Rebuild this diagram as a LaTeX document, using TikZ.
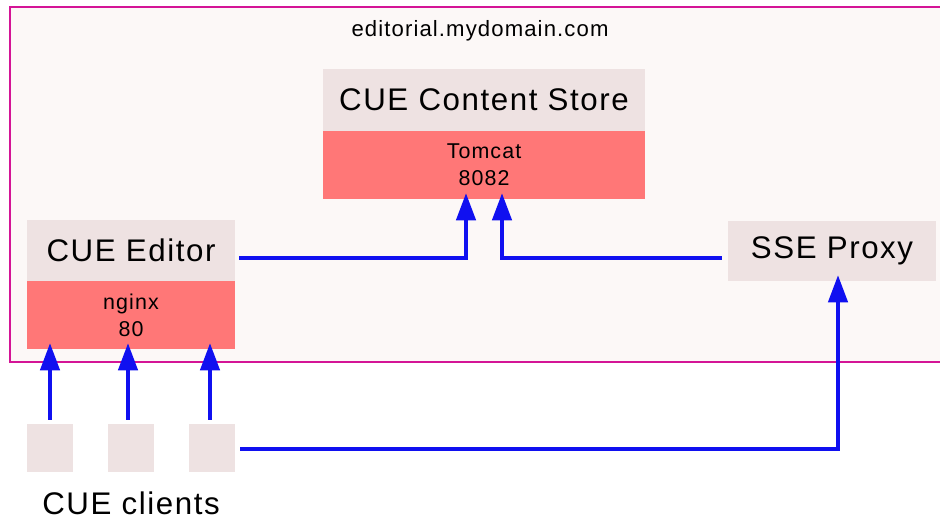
\documentclass[tikz,border=0pt]{standalone}
\usepackage{fontspec}
\setmainfont{Liberation Sans}[LetterSpace=5]
\usetikzlibrary{arrows.meta}
\usetikzlibrary{calc}
\usetikzlibrary{positioning}
\definecolor{hostline}{RGB}{212,20,150}
\definecolor{hostfill}{RGB}{252,248,247}
\definecolor{boxfill}{RGB}{238,226,226}
\definecolor{portfill}{RGB}{255,119,119}
\definecolor{linkblue}{RGB}{16,16,240}

\begin{document}
\begin{tikzpicture}[x=0.02cm, y=-0.02cm,
    host/.style={draw=hostline, fill=hostfill, line width=1.1pt},
    service/.style={fill=boxfill, inner sep=0pt, font=\fontsize{17.8}{20}\selectfont},
    port/.style={fill=portfill, inner sep=0pt, align=center, font=\fontsize{12.2}{15.5}\selectfont},
    client/.style={fill=boxfill, inner sep=0pt, minimum width=0.92cm, minimum height=0.96cm},
    link/.style={draw=linkblue, line width=2.1pt, -{Triangle[length=15.5pt,width=11pt]}, shorten >=-3.5pt}]
    \useasboundingbox (0, 0) rectangle (940, 520);
    \draw [host] (10, 7) rectangle (960, 362);
    \node (domain) at (480, 31) {\fontsize{12.6}{14}\selectfont editorial.mydomain.com};

    \node [service, minimum width=6.44cm, minimum height=1.24cm] (store) at (484, 100) {CUE Content Store};
    \node [port, minimum width=6.44cm, minimum height=1.36cm] (storeport) at (484, 165) {Tomcat\\8082};
    \node [service, minimum width=4.16cm, minimum height=1.22cm] (editor) at (131, 250.5) {CUE Editor};
    \node [port, minimum width=4.16cm, minimum height=1.36cm] (editorport) at (131, 315) {nginx\\80};
    \node [service, minimum width=4.16cm, minimum height=1.2cm] (proxy) at (832, 251) {SSE Proxy};

    \node [client] (client1) at (50, 448) {};
    \node [client] (client2) at (131, 448) {};
    \node [client] (client3) at (212, 448) {};
    \node [inner sep=0pt] (clients) at (131, 503) {\fontsize{17.8}{20}\selectfont CUE clients};

    \draw [link] ($(editor.east)+(4, 7.5)$) -| ($(storeport.south)+(-18, 0)$);
    \draw [link] ($(proxy.west)+(-6, 7)$) -| ($(storeport.south)+(18, 0)$);
    \draw [link] ($(client1.north)+(0, -4)$) -- (client1.north |- editorport.south);
    \draw [link] ($(client2.north)+(-3, -4)$) -- ($(client2.north |- editorport.south)+(-3, 0)$);
    \draw [link] ($(client3.north)+(-2, -4)$) -- ($(client3.north |- editorport.south)+(-2, 0)$);
    \draw [link] ($(client3.east)+(5, 1)$) -| ($(proxy.south)+(6, 0)$);
  \end{tikzpicture}
\end{document}
